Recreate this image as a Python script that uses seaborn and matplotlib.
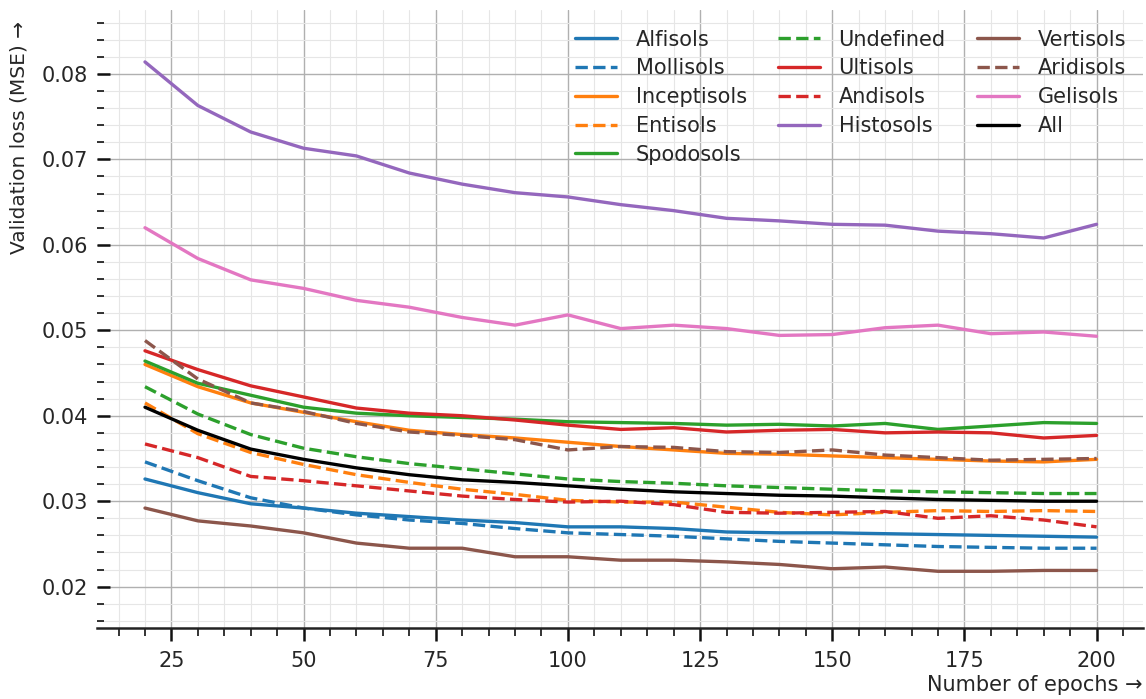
import numpy as np
import matplotlib
matplotlib.use("Agg")
import matplotlib.pyplot as plt
from matplotlib.ticker import MultipleLocator
import seaborn as sns

sns.set_style("whitegrid")
plt.rcParams["font.family"] = ["DejaVu Sans"]

epochs = [20, 30, 40, 50, 60, 70, 80, 90, 100, 110, 120, 130, 140, 150, 160, 170, 180, 190, 200]

alfisols = [0.0326, 0.0310, 0.0297, 0.0292, 0.0286, 0.0282, 0.0278, 0.0275, 0.0270, 0.0270, 0.0268,
            0.0264, 0.0263, 0.0263, 0.0262, 0.0261, 0.0260, 0.0259, 0.0258]
mollisols = [0.0346, 0.0324, 0.0304, 0.0292, 0.0284, 0.0278, 0.0274, 0.0268, 0.0263, 0.0261, 0.0259,
             0.0256, 0.0253, 0.0251, 0.0249, 0.0247, 0.0246, 0.0245, 0.0245]
inceptisols = [0.0460, 0.0434, 0.0415, 0.0404, 0.0393, 0.0383, 0.0378, 0.0374, 0.0369, 0.0364, 0.0360,
               0.0356, 0.0355, 0.0353, 0.0351, 0.0349, 0.0347, 0.0346, 0.0349]
entisols = [0.0415, 0.0379, 0.0357, 0.0343, 0.0331, 0.0322, 0.0314, 0.0308, 0.0301, 0.0299, 0.0299,
            0.0293, 0.0287, 0.0284, 0.0287, 0.0289, 0.0288, 0.0289, 0.0288]
spodosols = [0.0464, 0.0438, 0.0424, 0.0410, 0.0403, 0.0400, 0.0398, 0.0396, 0.0393, 0.0392, 0.0391,
             0.0389, 0.0390, 0.0388, 0.0391, 0.0384, 0.0388, 0.0392, 0.0391]
undefined = [0.0434, 0.0402, 0.0378, 0.0362, 0.0352, 0.0344, 0.0338, 0.0332, 0.0326, 0.0323, 0.0321,
             0.0318, 0.0316, 0.0314, 0.0312, 0.0311, 0.0310, 0.0309, 0.0309]
ultisols = [0.0476, 0.0454, 0.0435, 0.0422, 0.0409, 0.0403, 0.0400, 0.0395, 0.0389, 0.0384, 0.0386,
            0.0381, 0.0383, 0.0384, 0.0380, 0.0381, 0.0380, 0.0374, 0.0377]
andisols = [0.0367, 0.0351, 0.0329, 0.0324, 0.0318, 0.0312, 0.0306, 0.0302, 0.0299, 0.0300, 0.0296,
            0.0287, 0.0286, 0.0287, 0.0288, 0.0280, 0.0283, 0.0278, 0.0270]
histosols = [0.0814, 0.0763, 0.0732, 0.0713, 0.0704, 0.0684, 0.0671, 0.0661, 0.0656, 0.0647, 0.0640,
             0.0631, 0.0628, 0.0624, 0.0623, 0.0616, 0.0613, 0.0608, 0.0624]
vertisols = [0.0292, 0.0277, 0.0271, 0.0263, 0.0251, 0.0245, 0.0245, 0.0235, 0.0235, 0.0231, 0.0231,
             0.0229, 0.0226, 0.0221, 0.0223, 0.0218, 0.0218, 0.0219, 0.0219]
aridisols = [0.0488, 0.0443, 0.0415, 0.0405, 0.0391, 0.0381, 0.0377, 0.0372, 0.0360, 0.0364, 0.0363,
             0.0358, 0.0357, 0.0360, 0.0354, 0.0351, 0.0348, 0.0349, 0.0350]
gelisols = [0.0620, 0.0584, 0.0559, 0.0549, 0.0535, 0.0527, 0.0515, 0.0506, 0.0518, 0.0502, 0.0506,
            0.0502, 0.0494, 0.0495, 0.0503, 0.0506, 0.0496, 0.0498, 0.0493]
all_soils = [0.0410, 0.0383, 0.0361, 0.0349, 0.0339, 0.0331, 0.0325, 0.0322, 0.0318, 0.0314, 0.0311,
             0.0309, 0.0307, 0.0306, 0.0304, 0.0302, 0.0301, 0.0300, 0.0300]

pal = sns.color_palette("tab10")

series = [
    ("Alfisols", alfisols, pal[0], "-"),
    ("Mollisols", mollisols, pal[0], "--"),
    ("Inceptisols", inceptisols, pal[1], "-"),
    ("Entisols", entisols, pal[1], "--"),
    ("Spodosols", spodosols, pal[2], "-"),
    ("Undefined", undefined, pal[2], "--"),
    ("Ultisols", ultisols, pal[3], "-"),
    ("Andisols", andisols, pal[3], "--"),
    ("Histosols", histosols, pal[4], "-"),
    ("Vertisols", vertisols, pal[5], "-"),
    ("Aridisols", aridisols, pal[5], "--"),
    ("Gelisols", gelisols, pal[6], "-"),
    ("All", all_soils, "black", "-"),
]

fig = plt.figure(figsize=(11.46, 6.99), dpi=100)
ax = fig.add_axes([0.085, 0.102, 0.912, 0.884])

for name, vals, col, ls in series:
    sns.lineplot(x=epochs, y=vals, color=col, linestyle=ls, linewidth=2.4, label=name, ax=ax)

ax.set_xlim(11, 208.7)
ax.set_ylim(0.0152, 0.0875)

ax.xaxis.set_major_locator(MultipleLocator(25))
ax.xaxis.set_minor_locator(MultipleLocator(5))
ax.yaxis.set_major_locator(MultipleLocator(0.01))
ax.yaxis.set_minor_locator(MultipleLocator(0.002))
ax.yaxis.set_major_formatter(matplotlib.ticker.FormatStrFormatter("%.2f"))

ax.grid(which="major", color="#b0b0b0", linewidth=1.0)
ax.grid(which="minor", color="#e6e6e6", linewidth=0.8)
ax.set_axisbelow(True)

for s in ["left", "top", "right"]:
    ax.spines[s].set_visible(False)
ax.spines["bottom"].set_color("#222222")
ax.spines["bottom"].set_linewidth(1.8)

ax.tick_params(axis="x", which="major", direction="out", length=9, width=1.8,
               color="#111111", labelsize=15, pad=8, bottom=True)
ax.tick_params(axis="x", which="minor", direction="out", length=5.5, width=1.2,
               color="#111111", bottom=True)
ax.tick_params(axis="y", which="major", direction="in", length=9, width=1.8,
               color="#111111", labelsize=15, pad=7, left=True)
ax.tick_params(axis="y", which="minor", direction="in", length=5, width=1.2,
               color="#111111", left=True)

ax.set_xlabel("Number of epochs \u2192", fontsize=15, loc="right", labelpad=3)
ax.set_ylabel("Validation loss (MSE) \u2192", fontsize=14.5, loc="top")
ax.yaxis.set_label_coords(-0.066, 0.982)

ax.legend(ncol=3, loc="upper right", frameon=False, fontsize=15,
          handlelength=2.0, handletextpad=0.9, columnspacing=1.5, labelspacing=0.42,
          borderaxespad=0.2, bbox_to_anchor=(0.996, 0.988))

fig.savefig("out.png", dpi=100)
